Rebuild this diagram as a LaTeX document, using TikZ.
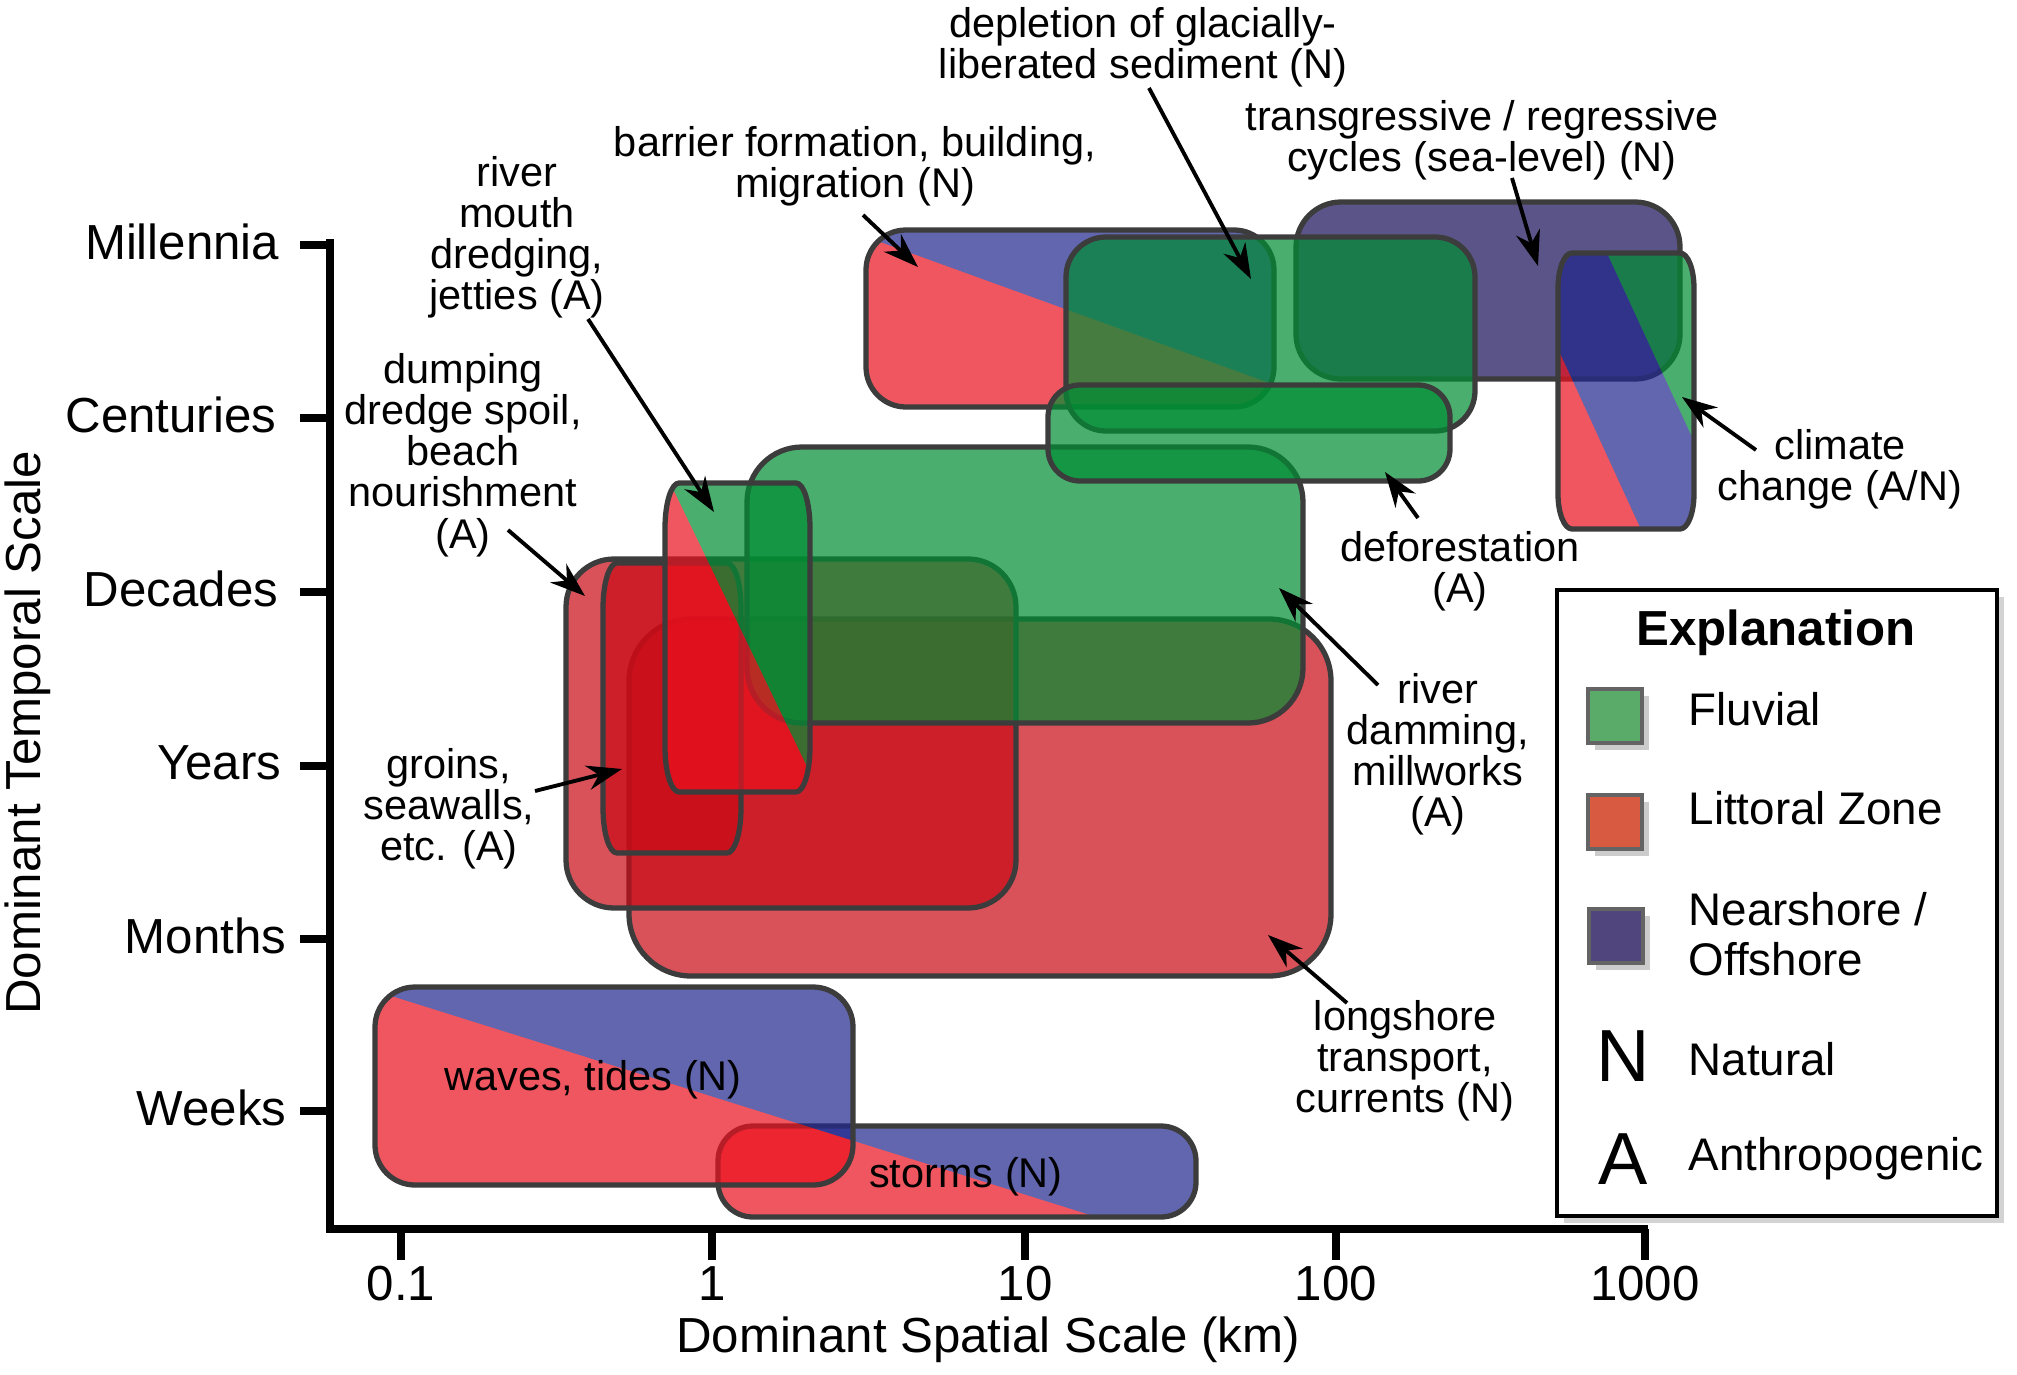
\documentclass[tikz,border=0pt]{standalone}
\usepackage{fontspec}
\setmainfont{Liberation Sans}
\usetikzlibrary{arrows.meta,shadows}
\definecolor{litred}{RGB}{201,11,22}
\definecolor{splitred}{RGB}{234,17,30}
\definecolor{nearblue}{RGB}{32,39,141}
\definecolor{offpurple}{RGB}{24,14,87}
\definecolor{fluvgreen}{RGB}{0,141,51}
\definecolor{rimgray}{RGB}{60,60,60}
\definecolor{keygreen}{RGB}{90,170,105}
\definecolor{keyred}{RGB}{215,90,65}
\definecolor{keypurple}{RGB}{80,70,125}
\definecolor{keyedge}{RGB}{100,100,100}
% rounded box: x1, y1, x2, y2, corner rx, corner ry (pixel units, y down)
\newcommand{\rbox}[6]{(#1,#2+#6) arc[start angle=180,end angle=270,x radius=#5,y radius=#6]
  -- (#3-#5,#2) arc[start angle=270,end angle=360,x radius=#5,y radius=#6]
  -- (#3,#4-#6) arc[start angle=0,end angle=90,x radius=#5,y radius=#6]
  -- (#1+#5,#4) arc[start angle=90,end angle=180,x radius=#5,y radius=#6] -- cycle}
\begin{document}
\begin{tikzpicture}[x=0.01cm, y=-0.01cm,
    every node/.style={inner sep=0pt},
    note/.style={font=\fontsize{11.8}{11.7}\selectfont, align=center},
    ticklab/.style={font=\fontsize{14}{16}\selectfont},
    axisline/.style={line width=2pt},
    rim/.style={draw=rimgray, line width=1.5pt, line join=round},
    wash/.style={fill=#1, fill opacity=.71},
    pointer/.style={-{Stealth[length=10pt,width=7pt]}, line width=1.1pt},
    keytext/.style={font=\fontsize{13}{14.2}\selectfont, anchor=west, align=left},
    swatch/.style={draw=keyedge, line width=1.4pt, fill=#1, minimum width=.54cm,
      minimum height=.54cm, drop shadow={shadow xshift=2pt, shadow yshift=-2pt, opacity=.4}},
  ]
  \useasboundingbox (0,0) rectangle (2017,1375);
  % Axes
  \draw[axisline] (330,239) -- (330,1229) -- (1648,1229);
  \foreach \y/\x/\lab in {245/280/Millennia, 418/277/Centuries, 592/279/Decades,
      766/282/Years, 939/287/Months, 1111/287/Weeks} {
    \draw[axisline] (300,\y) -- (330,\y);
    \node[ticklab, anchor=east] (ylab-\lab) at (\x,\y-3) {\lab};
  }
  \foreach \x/\lab [count=\i] in {401/0.1, 712/1, 1025/10, 1336/100, 1645/1000} {
    \draw[axisline] (\x,1229) -- (\x,1260);
    \node[ticklab] (xlab-\i) at (\x,1284) {\lab};
  }
  \node[ticklab, rotate=90] (ytitle) at (28,733) {Dominant Temporal Scale};
  \node[ticklab] (xtitle) at (988,1340) {Dominant Spatial Scale (km)};
  % Littoral boxes
  \fill[wash=litred] \rbox{629}{619}{1331}{976}{62}{62};
  \draw[rim] \rbox{629}{619}{1331}{976}{62}{62};
  \fill[wash=litred] \rbox{566}{559}{1016}{908}{48}{48};
  \draw[rim] \rbox{566}{559}{1016}{908}{48}{48};
  \fill[wash=litred] \rbox{603}{563}{741}{853}{14}{45};
  \draw[rim] \rbox{603}{563}{741}{853}{14}{45};
  % Fluvial: river damming
  \fill[wash=fluvgreen] \rbox{747}{447}{1303}{723}{55}{55};
  \draw[rim] \rbox{747}{447}{1303}{723}{55}{55};
  % River mouth, split red / green
  \begin{scope}[transparency group, opacity=.71]
    \clip \rbox{665}{483}{810}{792}{14}{45};
    \fill[splitred] (640,470) rectangle (840,810);
    \fill[fluvgreen] (664,470) -- (828,810) -- (840,810) -- (840,470) -- cycle;
  \end{scope}
  \draw[rim] \rbox{665}{483}{810}{792}{14}{45};
  % Barrier, split red / blue
  \begin{scope}[transparency group, opacity=.71]
    \clip \rbox{866}{230}{1274}{407}{40}{40};
    \fill[splitred] (850,200) rectangle (1300,450);
    \fill[nearblue] (850,231) -- (1300,394) -- (1300,200) -- (850,200) -- cycle;
  \end{scope}
  \draw[rim] \rbox{866}{230}{1274}{407}{40}{40};
  % Sea-level cycles
  \fill[wash=offpurple] \rbox{1296}{202}{1680}{379}{45}{45};
  \draw[rim] \rbox{1296}{202}{1680}{379}{45}{45};
  % Glacial sediment, deforestation
  \fill[wash=fluvgreen] \rbox{1066}{237}{1475}{431}{40}{40};
  \draw[rim] \rbox{1066}{237}{1475}{431}{40}{40};
  \fill[wash=fluvgreen] \rbox{1048}{385}{1450}{481}{32}{32};
  \draw[rim] \rbox{1048}{385}{1450}{481}{32}{32};
  % Climate change, three stripes
  \begin{scope}[transparency group, opacity=.71]
    \clip \rbox{1558}{253}{1694}{529}{14}{35};
    \fill[nearblue] (1500,240) rectangle (1750,545);
    \fill[splitred] (1508,240) -- (1648,545) -- (1500,545) -- (1500,240) -- cycle;
    \fill[fluvgreen] (1601,240) -- (1742,545) -- (1750,545) -- (1750,240) -- cycle;
  \end{scope}
  \draw[rim] \rbox{1558}{253}{1694}{529}{14}{35};
  % Storms and waves, split red / blue
  \begin{scope}[transparency group, opacity=.71]
    \clip \rbox{718}{1126}{1196}{1217}{35}{35};
    \fill[splitred] (700,1100) rectangle (1250,1265);
    \fill[nearblue] (350,983) -- (1250,1265) -- (1250,950) -- (350,950) -- cycle;
  \end{scope}
  \draw[rim] \rbox{718}{1126}{1196}{1217}{35}{35};
  \begin{scope}[transparency group, opacity=.71]
    \clip \rbox{375}{987}{853}{1185}{40}{40};
    \fill[splitred] (350,950) rectangle (900,1200);
    \fill[nearblue] (350,983) -- (1250,1265) -- (1250,950) -- (350,950) -- cycle;
  \end{scope}
  \draw[rim] \rbox{375}{987}{853}{1185}{40}{40};
  % Labels
  \node[note] (mouth) at (517,237) {river\\mouth\\dredging,\\jetties (A)};
  \node[note] (dump) at (463,455) {dumping\\dredge spoil,\\beach\\nourishment\\(A)};
  \node[note] (groin) at (449,809) {groins,\\seawalls,\\etc. (A)};
  \node[note] (barrier) at (855,166) {barrier formation, building,\\migration (N)};
  \node[note] (glacial) at (1143,47) {depletion of glacially-\\liberated sediment (N)};
  \node[note] (sea) at (1482,140) {transgressive / regressive\\cycles (sea-level) (N)};
  \node[note] (forest) at (1460,571) {deforestation\\(A)};
  \node[note] (dam) at (1438,754) {river\\damming,\\millworks\\(A)};
  \node[note] (shore) at (1405,1061) {longshore\\transport,\\currents (N)};
  \node[note] (climate) at (1840,469) {climate\\change (A/N)};
  \node[note] (waves) at (593,1080) {waves, tides (N)};
  \node[note] (storms) at (966,1177) {storms (N)};
  % Pointers (tail, tip)
  \coordinate (barrier-tail) at (863,215);  \coordinate (barrier-tip) at (918,267);
  \coordinate (glacial-tail) at (1149,88);  \coordinate (glacial-tip) at (1251,279);
  \coordinate (sea-tail) at (1512,178);     \coordinate (sea-tip) at (1538,266);
  \coordinate (mouth-tail) at (588,319);    \coordinate (mouth-tip) at (714,512);
  \coordinate (dump-tail) at (508,530);     \coordinate (dump-tip) at (585,596);
  \coordinate (groin-tail) at (535,791);    \coordinate (groin-tip) at (622,769);
  \coordinate (forest-tail) at (1418,518);  \coordinate (forest-tip) at (1385,472);
  \coordinate (dam-tail) at (1378,685);     \coordinate (dam-tip) at (1279,588);
  \coordinate (shore-tail) at (1347,1003);  \coordinate (shore-tip) at (1268,935);
  \coordinate (climate-tail) at (1756,450); \coordinate (climate-tip) at (1682,397);
  \foreach \n in {barrier, glacial, sea, mouth, dump, groin, forest, dam, shore, climate}
    \draw[pointer] (\n-tail) -- (\n-tip);
  % Explanation
  \node[draw, line width=1pt, fill=white, minimum width=4.4cm, minimum height=6.26cm,
    drop shadow={shadow xshift=2pt, shadow yshift=-2pt, opacity=.35}] (key) at (1777,903) {};
  \node[font=\bfseries\fontsize{14}{16}\selectfont] (keytitle) at (1776,633) {Explanation};
  \node[swatch=keygreen] (sw-fluv) at (1615,716) {};
  \node[swatch=keyred] (sw-litt) at (1615,822) {};
  \node[swatch=keypurple] (sw-near) at (1616,936) {};
  \node[font=\fontsize{21}{22}\selectfont] (sw-N) at (1623,1056) {N};
  \node[font=\fontsize{21}{22}\selectfont] (sw-A) at (1623,1159) {A};
  \node[keytext] (k-fluv) at (1688,709) {Fluvial};
  \node[keytext] (k-litt) at (1688,808) {Littoral Zone};
  \node[keytext] (k-near) at (1688,934) {Nearshore /\\Offshore};
  \node[keytext] (k-N) at (1688,1059) {Natural};
  \node[keytext] (k-A) at (1688,1159) {Anthropogenic};
\end{tikzpicture}
\end{document}
